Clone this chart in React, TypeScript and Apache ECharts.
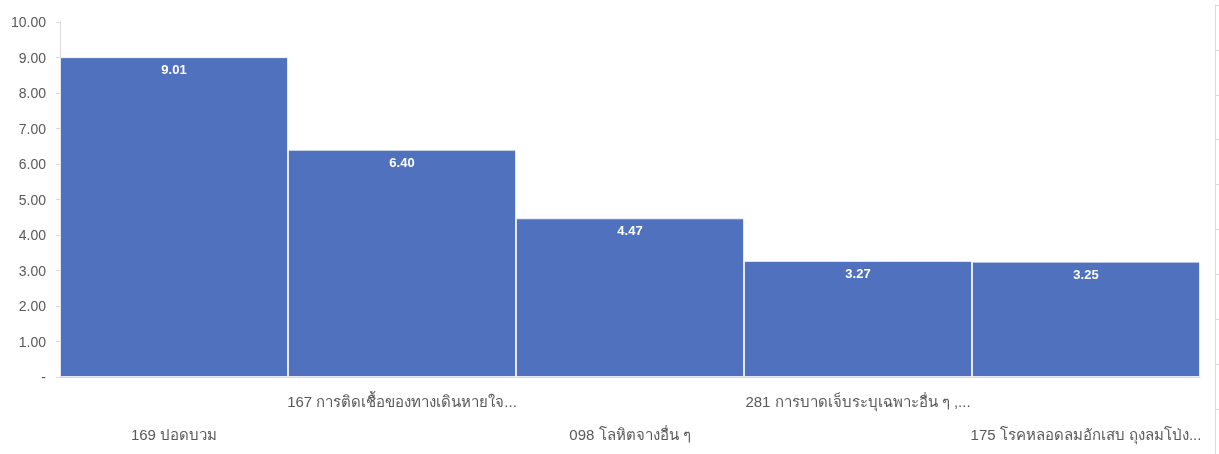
import React, { useEffect, useRef } from "react";
import * as echarts from "echarts";

const categories = [
  "169 ปอดบวม",
  "167 การติดเชื้อของทางเดินหายใจ...",
  "098 โลหิตจางอื่น ๆ",
  "281 การบาดเจ็บระบุเฉพาะอื่น ๆ ,...",
  "175 โรคหลอดลมอักเสบ ถุงลมโป่ง...",
];
const values = [9.01, 6.4, 4.47, 3.27, 3.25];
const yTicks = [0, 1, 2, 3, 4, 5, 6, 7, 8, 9, 10];

const FONT = "'Liberation Sans', 'Noto Sans', 'DejaVu Sans', sans-serif";

export default function App() {
  const ref = useRef<HTMLDivElement>(null);
  useEffect(() => {
    if (!ref.current) return;
    const chart = echarts.init(ref.current, undefined, { renderer: "svg" });
    chart.setOption({
      animation: false,
      textStyle: { fontFamily: FONT },
      grid: [
        { left: 60, right: 19, top: 22, bottom: 77 },
        { left: 1214, width: 1, top: 5, height: 450 },
      ],
      xAxis: [
        {
          type: "category",
          gridIndex: 0,
          data: categories,
          axisLine: { lineStyle: { color: "#D9D9D9" } },
          axisTick: { lineStyle: { color: "#D9D9D9" }, length: 5 },
          axisLabel: {
            interval: 0,
            hideOverlap: false,
            color: "#595959",
            fontSize: 15,
            lineHeight: 33,
            margin: 8,
            formatter: (v: string, i: number) => (i % 2 === 0 ? "\n" + v : v),
          },
        },
        { type: "category", gridIndex: 1, show: false, data: [] },
      ],
      yAxis: [
        {
          type: "value",
          gridIndex: 0,
          min: yTicks[0],
          max: yTicks[yTicks.length - 1],
          interval: 1,
          splitLine: { show: false },
          axisLine: { show: true, lineStyle: { color: "#D9D9D9" } },
          axisTick: { show: true, length: 4, lineStyle: { color: "#D9D9D9" } },
          axisLabel: {
            color: "#595959",
            fontSize: 14,
            margin: 14,
            formatter: (v: number) => (v === 0 ? "-" : v.toFixed(2)),
          },
        },
        {
          type: "value",
          gridIndex: 1,
          position: "right",
          min: 0,
          max: 10,
          interval: 1,
          splitLine: { show: false },
          axisLine: { show: true, lineStyle: { color: "#D9D9D9" } },
          axisTick: { show: true, length: 4, lineStyle: { color: "#D9D9D9" } },
          axisLabel: { show: false },
        },
      ],
      series: [
        {
          type: "bar",
          xAxisIndex: 0,
          yAxisIndex: 0,
          data: values,
          barCategoryGap: "0%",
          itemStyle: {
            color: "#4F71BE",
            borderColor: "rgba(255,255,255,0.7)",
            borderWidth: 1,
          },
          label: {
            show: true,
            position: "insideTop",
            distance: 6,
            color: "#FFFFFF",
            fontWeight: "bold",
            fontSize: 13,
            formatter: (p: any) => p.value.toFixed(2),
          },
        },
        { type: "line", xAxisIndex: 1, yAxisIndex: 1, data: [] },
      ],
    });
    return () => chart.dispose();
  }, []);
  return (
    <div
      ref={ref}
      style={{ position: "fixed", left: 0, top: 0, width: 1219, height: 454 }}
    />
  );
}
